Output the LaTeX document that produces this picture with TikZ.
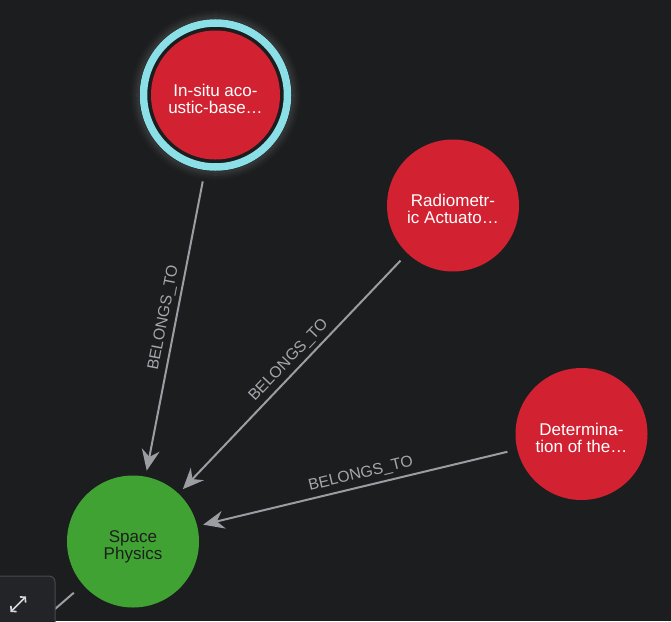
\documentclass[tikz,border=0pt]{standalone}
\usepackage{fontspec}
\setmainfont{Liberation Sans}
\usetikzlibrary{arrows.meta}
\definecolor{bg}{HTML}{1C1D1F}
\definecolor{nodered}{HTML}{D22232}
\definecolor{nodegreen}{HTML}{41A234}
\definecolor{textdark}{HTML}{1B1F1A}
\definecolor{ringcyan}{HTML}{8BDFE6}
\definecolor{edgegrey}{HTML}{9A9DA2}
\definecolor{labelgrey}{HTML}{A4A7AC}
\definecolor{btnfill}{HTML}{232427}
\definecolor{btnline}{HTML}{47494D}
\definecolor{icongrey}{HTML}{D6D7D9}
\begin{document}
\begin{tikzpicture}[x=1pt,y=-1pt,
  graphnode/.style={circle, minimum size=132pt, inner sep=0pt, align=center,
    font=\fontsize{17}{17}\selectfont, text=white, text height=36pt, text depth=0pt},
  rednode/.style={graphnode, fill=nodered},
  greennode/.style={graphnode, fill=nodegreen, text=textdark},
  rel/.style={draw=edgegrey, line width=2pt,
    -{Stealth[length=21pt,width=18pt,inset=7pt]}, shorten <=10pt, shorten >=6pt},
  rellabel/.style={pos=0.48, sloped, above=4pt, inner sep=0pt, text=labelgrey,
    font=\fontsize{15.8}{16}\selectfont}
]
\useasboundingbox (0,0) rectangle (671,621);
\clip (0,0) rectangle (671,621);
\fill[bg] (0,0) rectangle (671,621);

% nodes
\node[rednode, minimum size=129pt] (insitu) at (215.5,95) {In-situ aco-\\ustic-base…};
\foreach \r/\o in {77/0.10,78.5/0.08,80/0.06,81.5/0.04,83/0.025,84.5/0.012}
  \draw[white, opacity=\o, line width=1.6pt] (insitu.center) circle (\r pt);
\draw[ringcyan, line width=7.5pt] (insitu.center) circle (72pt);

\node[rednode] (radio) at (453,205.5) {Radiometr-\\ic Actuato…};
\node[rednode] (determ) at (581.5,434) {Determina-\\tion of the…};
\node[greennode] (space) at (133,541.5) {Space\\Physics};
\coordinate (off) at (-44,694.7);

% connectors
\draw[rel, shorten <=88pt] ([xshift=4pt]insitu.center) -- node[rellabel, pos=0.59]{BELONGS\_TO} (space);
\draw[rel] (radio) -- node[rellabel]{BELONGS\_TO} (space);
\draw[rel] (determ) -- node[rellabel]{BELONGS\_TO} (space);
\draw[edgegrey, line width=2pt, shorten <=12pt] (space) -- (off);

% expand button
\node[draw=btnline, fill=btnfill, rounded corners=6pt, line width=1pt,
  minimum width=62pt, minimum height=60pt] (expand) at (24,606) {};
\draw[icongrey, line width=1.6pt,
  {Straight Barb[length=3.5pt,width=8pt]}-{Straight Barb[length=3.5pt,width=8pt]}]
  (10.5,612) -- (26,596.5);
\end{tikzpicture}
\end{document}
